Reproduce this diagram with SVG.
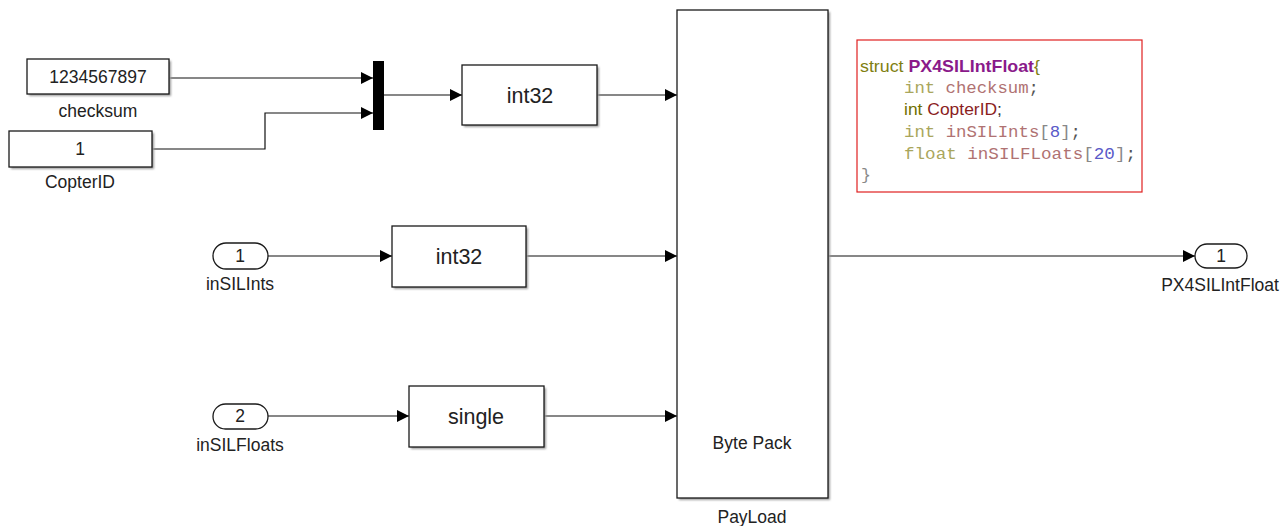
<svg xmlns="http://www.w3.org/2000/svg" width="1281" height="526" viewBox="0 0 1281 526">
<style>
.blk{fill:#fff;stroke:#1a1a1a;stroke-width:1.3}
.shd{fill:#9a9a9a;filter:url(#blur)}
.t{font-family:"Liberation Sans",Arial,sans-serif;fill:#222;text-anchor:middle}
.lbl{font-size:17.5px}
.big{font-size:21.5px}
.ln{fill:none;stroke:#111;stroke-width:1.2}
.m{font-family:"Liberation Mono","Courier New",monospace;font-size:16.5px}
.s{font-family:"Liberation Sans",Arial,sans-serif;font-size:17px}
</style>
<defs>
<filter id="blur" x="-10%" y="-10%" width="130%" height="130%"><feGaussianBlur stdDeviation="1.2"/></filter>
<marker id="ar" viewBox="0 0 10 10" refX="10" refY="5" markerWidth="12" markerHeight="12" markerUnits="userSpaceOnUse" orient="auto"><path d="M0,0 L10,5 L0,10 z" fill="#000"/></marker>
</defs>
<rect width="1281" height="526" fill="#fff"/>

<g id="connectors">
<path class="ln" d="M169,78 H373" marker-end="url(#ar)"/>
<path class="ln" d="M152,149 H265 V113 H373" marker-end="url(#ar)"/>
<path class="ln" d="M384,95 H462" marker-end="url(#ar)"/>
<path class="ln" d="M597,95 H677" marker-end="url(#ar)"/>
<path class="ln" d="M268,256 H392" marker-end="url(#ar)"/>
<path class="ln" d="M526,256 H677" marker-end="url(#ar)"/>
<path class="ln" d="M268,416 H409" marker-end="url(#ar)"/>
<path class="ln" d="M544,416 H677" marker-end="url(#ar)"/>
<path class="ln" d="M828,256 H1195" marker-end="url(#ar)"/>
</g>

<g id="checksum">
<rect class="shd" x="29" y="61" width="142" height="35"/>
<rect class="blk" x="27" y="59" width="142" height="35"/>
<text class="t lbl" x="98" y="83">1234567897</text>
<text class="t lbl" x="98" y="117">checksum</text>
</g>

<g id="CopterID">
<rect class="shd" x="11" y="133" width="143" height="36"/>
<rect class="blk" x="9" y="131" width="143" height="36"/>
<text class="t lbl" x="80" y="155">1</text>
<text class="t lbl" x="80" y="188">CopterID</text>
</g>

<g id="mux">
<rect x="373" y="61" width="11" height="69" fill="#000"/>
</g>

<g id="int32a">
<rect class="shd" x="464" y="67" width="135" height="60"/>
<rect class="blk" x="462" y="65" width="135" height="60"/>
<text class="t big" x="530" y="103">int32</text>
</g>

<g id="inSILInts">
<rect x="213" y="243" width="55" height="26" rx="13" fill="#fff" stroke="#1a1a1a" stroke-width="1.3"/>
<text class="t lbl" x="240" y="262">1</text>
<text class="t lbl" x="240" y="290">inSILInts</text>
</g>

<g id="int32b">
<rect class="shd" x="394" y="228" width="134" height="61"/>
<rect class="blk" x="392" y="226" width="134" height="61"/>
<text class="t big" x="459" y="264">int32</text>
</g>

<g id="inSILFloats">
<rect x="213" y="404" width="55" height="25" rx="12.5" fill="#fff" stroke="#1a1a1a" stroke-width="1.3"/>
<text class="t lbl" x="240" y="422">2</text>
<text class="t lbl" x="240" y="451">inSILFloats</text>
</g>

<g id="single">
<rect class="shd" x="411" y="388" width="135" height="61"/>
<rect class="blk" x="409" y="386" width="135" height="61"/>
<text class="t big" x="476" y="424">single</text>
</g>

<g id="PayLoad">
<rect class="shd" x="679" y="12" width="151" height="488"/>
<rect class="blk" x="677" y="10" width="151" height="488"/>
<text class="t lbl" x="752" y="449">Byte Pack</text>
<text class="t lbl" x="752" y="523">PayLoad</text>
</g>

<g id="PX4SILIntFloat">
<rect x="1195" y="244" width="52" height="24" rx="12" fill="#fff" stroke="#1a1a1a" stroke-width="1.3"/>
<text class="t lbl" x="1221" y="262">1</text>
<text class="t lbl" x="1220" y="291">PX4SILIntFloat</text>
</g>

<g id="annotation">
<rect x="857" y="40" width="285" height="152" fill="#fff" stroke="#e02020" stroke-width="1.2"/>
<text x="860" y="72" class="s" textLength="180" lengthAdjust="spacingAndGlyphs"><tspan fill="#7f7f12">struct </tspan><tspan fill="#8a1a8a" font-weight="bold">PX4SILIntFloat</tspan><tspan fill="#7f7f12">{</tspan></text>
<text x="904" y="93" class="m" textLength="135" lengthAdjust="spacingAndGlyphs"><tspan fill="#a9a65c">int </tspan><tspan fill="#b07272">checksum</tspan><tspan fill="#555">;</tspan></text>
<text x="904" y="115" class="s" textLength="98" lengthAdjust="spacingAndGlyphs"><tspan fill="#707000">int </tspan><tspan fill="#8b1e1e">CopterID</tspan><tspan fill="#333">;</tspan></text>
<text x="904" y="137" class="m" textLength="177" lengthAdjust="spacingAndGlyphs"><tspan fill="#a9a65c">int </tspan><tspan fill="#b07272">inSILInts</tspan><tspan fill="#888">[</tspan><tspan fill="#5a5ac8">8</tspan><tspan fill="#888">]</tspan><tspan fill="#555">;</tspan></text>
<text x="904" y="159" class="m" textLength="232" lengthAdjust="spacingAndGlyphs"><tspan fill="#a9a65c">float </tspan><tspan fill="#b07272">inSILFLoats</tspan><tspan fill="#888">[</tspan><tspan fill="#5a5ac8">20</tspan><tspan fill="#888">]</tspan><tspan fill="#555">;</tspan></text>
<text x="861" y="180" class="m" fill="#888">}</text>
</g>
</svg>
